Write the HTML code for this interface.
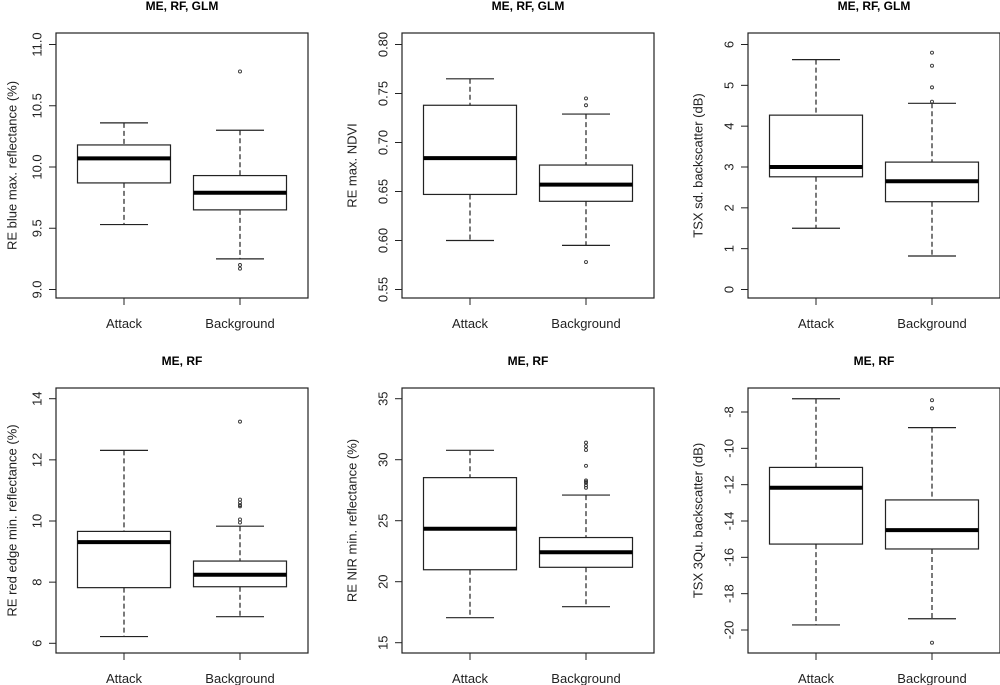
<!DOCTYPE html>
<html><head><meta charset="utf-8"><style>
html,body{margin:0;padding:0;background:#fff;}
svg{display:block;font-family:"Liberation Sans",Arial,sans-serif;}
</style></head><body>
<svg id="chart" width="1000" height="685" viewBox="0 0 1000 685" xmlns="http://www.w3.org/2000/svg"></svg>
<script>
// ---- data ----
const categories = ["Attack", "Background"];
const titles = ["ME, RF, GLM", "ME, RF, GLM", "ME, RF, GLM", "ME, RF", "ME, RF", "ME, RF"];
const yTitles = ["RE blue max. reflectance (%)", "RE max. NDVI", "TSX sd. backscatter (dB)",
  "RE red edge min. reflectance (%)", "RE NIR min. reflectance (%)", "TSX 3Qu. backscatter (dB)"];
// [lowWhisker, Q1, median, Q3, highWhisker]
const stats1 = [[9.53, 9.87, 10.07, 10.18, 10.36], [9.25, 9.65, 9.79, 9.93, 10.30]];
const stats2 = [[0.600, 0.647, 0.684, 0.738, 0.765], [0.595, 0.640, 0.657, 0.677, 0.729]];
const stats3 = [[1.50, 2.76, 3.00, 4.27, 5.63], [0.82, 2.15, 2.65, 3.12, 4.56]];
const stats4 = [[6.22, 7.82, 9.31, 9.66, 12.31], [6.87, 7.85, 8.24, 8.69, 9.83]];
const stats5 = [[17.05, 20.98, 24.34, 28.53, 30.77], [17.95, 21.18, 22.41, 23.62, 27.10]];
const stats6 = [[-19.72, -15.27, -12.17, -11.05, -7.27], [-19.38, -15.54, -14.50, -12.84, -8.86]];
const outliers1 = [[], [10.78, 9.20, 9.17]];
const outliers2 = [[], [0.745, 0.738, 0.578]];
const outliers3 = [[], [5.80, 5.48, 4.95, 4.60]];
const outliers4 = [[], [13.25, 10.70, 10.60, 10.52, 10.48, 10.05, 9.95]];
const outliers5 = [[], [31.4, 31.1, 30.8, 29.5, 28.3, 28.2, 28.1, 27.9, 27.7]];
const outliers6 = [[], [-7.35, -7.8, -20.7]];
const ticks1 = [9.0, 9.5, 10.0, 10.5, 11.0];
const ticks2 = [0.55, 0.60, 0.65, 0.70, 0.75, 0.80];
const ticks3 = [0, 1, 2, 3, 4, 5, 6];
const ticks4 = [6, 8, 10, 12, 14];
const ticks5 = [15, 20, 25, 30, 35];
const ticks6 = [-20, -18, -16, -14, -12, -10, -8];
const tickLabels1 = ["9.0", "9.5", "10.0", "10.5", "11.0"];
const tickLabels2 = ["0.55", "0.60", "0.65", "0.70", "0.75", "0.80"];
const tickLabels3 = ["0", "1", "2", "3", "4", "5", "6"];
const tickLabels4 = ["6", "8", "10", "12", "14"];
const tickLabels5 = ["15", "20", "25", "30", "35"];
const tickLabels6 = ["-20", "-18", "-16", "-14", "-12", "-10", "-8"];

const allStats = [stats1, stats2, stats3, stats4, stats5, stats6];
const allOut = [outliers1, outliers2, outliers3, outliers4, outliers5, outliers6];
const allTicks = [ticks1, ticks2, ticks3, ticks4, ticks5, ticks6];
const allTickLabels = [tickLabels1, tickLabels2, tickLabels3, tickLabels4, tickLabels5, tickLabels6];

// ---- layout ----
const colLeft = [56, 402, 748], frameW = 252;
const rowTop = [33, 388], frameH = 265;
// axis calibration: [value at y0, y0, value at y1, y1]
const calib = [[11.0, 44.5, 9.0, 289.5], [0.80, 44.5, 0.55, 289.5], [6, 44.5, 0, 289.5],
  [14, 398.7, 6, 643.3], [35, 398.7, 15, 642.7], [-8, 412, -20, 630]];

const NS = "http://www.w3.org/2000/svg";
const svg = document.getElementById("chart");
function mk(tag, attrs, parent) {
  const e = document.createElementNS(NS, tag);
  for (const k in attrs) e.setAttribute(k, attrs[k]);
  (parent || svg).appendChild(e);
  return e;
}

for (let p = 0; p < 6; p++) {
  const L = colLeft[p % 3], T = rowTop[Math.floor(p / 3)];
  const c = calib[p];
  const y = v => c[1] + (c[0] - v) / (c[0] - c[2]) * (c[3] - c[1]);
  const x = i => L + 68 + i * 116;
  const g = mk("g", {});
  
  

  const t = mk("text", {x: L + frameW / 2, y: T - 23, "text-anchor": "middle", "font-size": 12, "font-weight": "bold", fill: "#000"}, g);
  t.textContent = titles[p];
  
  

  const fr = mk("rect", {x: L, y: T, width: frameW, height: frameH, fill: "none", stroke: "#222", "stroke-width": 1.2}, g);
  
  

  // y axis
  const ya = mk("g", {}, g);
  
  
  allTicks[p].forEach((v, i) => {
    const yy = y(v);
    mk("line", {x1: L - 7, x2: L, y1: yy, y2: yy, stroke: "#222", "stroke-width": 1}, ya);
    const tl = mk("text", {x: 0, y: 0, transform: `translate(${L - 14.5},${yy}) rotate(-90)`, "text-anchor": "middle", "font-size": 13, fill: "#222"}, ya);
    tl.textContent = allTickLabels[p][i];
    
    
  });
  const yt = mk("text", {x: 0, y: 0, transform: `translate(${p % 3 === 0 ? 16.5 : L - 45.5},${T + frameH / 2}) rotate(-90)`, "text-anchor": "middle", "font-size": 13, fill: "#222"}, g);
  yt.textContent = yTitles[p];
  
  

  // x axis
  categories.forEach((cat, i) => {
    mk("line", {x1: x(i), x2: x(i), y1: T + frameH, y2: T + frameH + 7, stroke: "#222", "stroke-width": 1}, g);
    const xl = mk("text", {x: x(i), y: T + frameH + 30, "text-anchor": "middle", "font-size": 13, fill: "#222"}, g);
    xl.textContent = cat;
    
    
  });

  // boxes
  allStats[p].forEach((s, i) => {
    const bg = mk("g", {}, g);
    
    
    const cx = x(i);
    mk("line", {x1: cx, x2: cx, y1: y(s[4]), y2: y(s[3]), stroke: "#222", "stroke-width": 1.2, "stroke-dasharray": "5,3"}, bg);
    mk("line", {x1: cx, x2: cx, y1: y(s[1]), y2: y(s[0]), stroke: "#222", "stroke-width": 1.2, "stroke-dasharray": "5,3"}, bg);
    mk("line", {x1: cx - 24, x2: cx + 24, y1: y(s[4]), y2: y(s[4]), stroke: "#222", "stroke-width": 1.2}, bg);
    mk("line", {x1: cx - 24, x2: cx + 24, y1: y(s[0]), y2: y(s[0]), stroke: "#222", "stroke-width": 1.2}, bg);
    mk("rect", {x: cx - 46.5, y: y(s[3]), width: 93, height: y(s[1]) - y(s[3]), fill: "#fff", stroke: "#222", "stroke-width": 1.2}, bg);
    mk("line", {x1: cx - 46.5, x2: cx + 46.5, y1: y(s[2]), y2: y(s[2]), stroke: "#000", "stroke-width": 4}, bg);
    allOut[p][i].forEach(v => {
      const o = mk("circle", {cx: cx, cy: y(v), r: 1.5, fill: "none", stroke: "#333", "stroke-width": 0.9}, bg);
      
      
    });
  });
}
</script>
</body></html>
